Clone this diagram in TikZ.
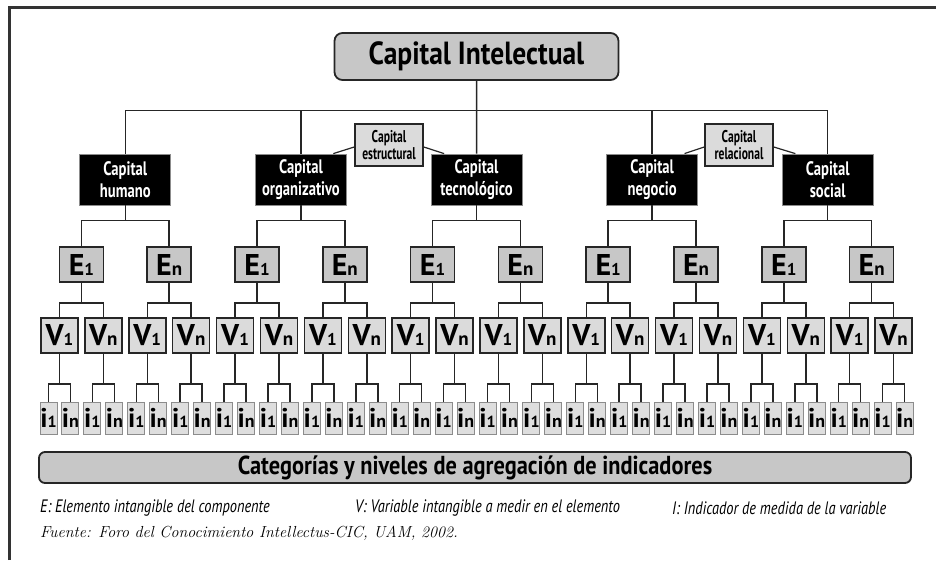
\documentclass[tikz,border=0pt]{standalone}
\usepackage{fontspec}
\newfontfamily\cnd[FakeStretch=0.75]{PT Sans}
\newfontfamily\cndd[FakeStretch=0.68]{PT Sans}
\newfontfamily\cndw[FakeStretch=0.86]{PT Sans}
\newfontfamily\ptb{PT Sans}
\newfontfamily\leg[FakeStretch=0.8]{PT Sans}
\newcommand\sublab[4]{{\fontsize{#3}{#3}\selectfont #1}{\fontsize{#4}{#4}\selectfont #2}}
\begin{document}
\begin{tikzpicture}[x=1pt,y=-1pt,
  conn/.style={draw=black!85, line width=1.5pt},
  cibox/.style={draw=black!85, line width=1.8pt, fill=black!22, rounded corners=8pt,
    minimum width=284pt, minimum height=47pt, inner sep=0pt,
    font=\cndw\bfseries\fontsize{32}{34}\selectfont},
  comp/.style={fill=black, draw=black!45, line width=0.8pt, minimum width=91pt,
    minimum height=51pt, text=white, align=center, inner sep=0pt,
    font=\cnd\bfseries\fontsize{19.5}{22}\selectfont},
  subcap/.style={fill=black!14, draw=black!85, line width=1.6pt, minimum width=68pt,
    minimum height=42pt, align=center, inner sep=0pt,
    font=\cndd\bfseries\fontsize{17}{17.5}\selectfont},
  ebox/.style={fill=black!22, draw=black!85, line width=1.5pt, minimum width=44pt,
    minimum height=35pt, inner sep=0pt, font=\ptb\bfseries},
  vbox/.style={fill=black!14, draw=black!85, line width=1.5pt, minimum width=37pt,
    minimum height=35pt, inner sep=0pt, font=\ptb\bfseries},
  ibox/.style={fill=black!13, draw=black!45, line width=1pt, minimum width=17pt,
    minimum height=32pt, inner sep=0pt, font=\ptb\bfseries},
  banner/.style={fill=black!22, draw=black!85, line width=1.8pt, rounded corners=6pt,
    minimum width=872pt, minimum height=31pt, inner sep=0pt,
    font=\cndw\bfseries\fontsize{26}{28}\selectfont},
  legtext/.style={anchor=west, inner sep=0pt, font=\leg\itshape\fontsize{18}{20}\selectfont},
  srctext/.style={anchor=west, inner sep=0pt, font=\itshape\fontsize{16}{18}\selectfont}
]
\useasboundingbox (0,0) rectangle (936,560);
\draw[line width=3pt, black!80] (9,560) -- (9,7) -- (936,7);

\node[cibox] (ci) at (476.5,56.5) {Capital Intelectual};

\pgfmathsetmacro\uu{21.95}
\foreach \cj/\txt in {0/{Capital\\humano},1/{Capital\\organizativo},2/{Capital\\tecnológico},3/{Capital\\negocio},4/{Capital\\social}}{
  \pgfmathsetmacro\cx{48.5+\uu*(8*\cj+3.5)}
  \node[comp] (c\cj) at (\cx,179.5) {\txt};
}

% top bus
\draw[conn] (ci.south) -- (c2.north);
\draw[conn] (c0.north) -- ++(0,-43) -| (c4.north);
\draw[conn] (c1.north) -- ++(0,-43);
\draw[conn] (c3.north) -- ++(0,-43);

% sub capitals
\node[subcap] (es) at (389,145) {Capital\\estructural};
\node[subcap] (rel) at (739,145) {Capital\\relacional};
\draw[conn, line width=1.2pt] ([yshift=-2pt]es.west) -- ([xshift=-13.5pt]c1.north east);
\draw[conn, line width=1.2pt] ([yshift=-2pt]es.east) -- ([xshift=13.5pt]c2.north west);
\draw[conn, line width=1.2pt] ([yshift=-2pt]rel.west) -- ([xshift=-13.5pt]c3.north east);
\draw[conn, line width=1.2pt] ([yshift=-2pt]rel.east) -- ([xshift=13.5pt]c4.north west);

\foreach \cj in {0,...,4}{
 \foreach \ce in {0,1}{
  \pgfmathsetmacro\ex{48.5+\uu*(8*\cj+4*\ce+1.5)}
  \node[ebox] (e\cj\ce) at (\ex,264.5) {\ifnum\ce=0 \sublab{E}{1}{30}{17}\else\sublab{E}{n}{30}{19}\fi};
  \draw[conn] (c\cj.south) -- ++(0,15) -| (e\cj\ce.north);
  \foreach \cv in {0,1}{
    \pgfmathsetmacro\vx{48.5+\uu*(8*\cj+4*\ce+2*\cv+0.5)}
    \node[vbox] (v\cj\ce\cv) at (\vx,335.5) {\ifnum\cv=0 \sublab{V}{1}{30}{17}\else\sublab{V}{n}{30}{19}\fi};
    \draw[conn] (e\cj\ce.south) -- ++(0,20) -| (v\cj\ce\cv.north);
    \foreach \ck in {0,1}{
      \pgfmathsetmacro\ix{48.5+\uu*(8*\cj+4*\ce+2*\cv+\ck)}
      \node[ibox] (i\cj\ce\cv\ck) at (\ix,418) {\ifnum\ck=0 \sublab{i}{1}{27}{16}\else\sublab{i}{n}{27}{18}\fi};
      \draw[conn] (v\cj\ce\cv.south) -- ++(0,30) -| (i\cj\ce\cv\ck.north);
    }
  }
 }
}

\node[banner] (ban) at (475,467.5) {Categorías y niveles de agregación de indicadores};

\node[legtext] (le) at (40,508) {E: Elemento intangible del componente};
\node[legtext] (lv) at (355,508) {V: Variable intangible a medir en el elemento};
\node[legtext] (li) at (672,508) {I: Indicador de medida de la variable};
\node[srctext] (src) at (40,533) {Fuente: Foro del Conocimiento Intellectus-CIC, UAM, 2002.};
\end{tikzpicture}
\end{document}
